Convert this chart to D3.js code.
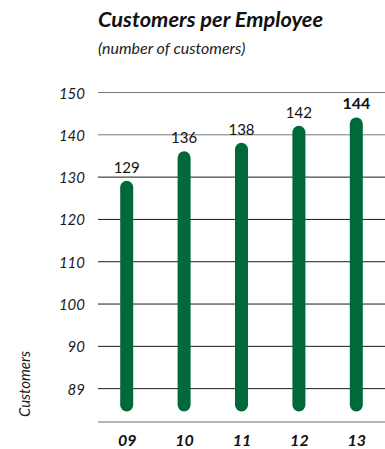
<!DOCTYPE html>
<html>
<head>
<meta charset="utf-8">
<script src="https://cdn.jsdelivr.net/npm/d3@7/dist/d3.min.js"></script>
<style>
  html, body { margin: 0; padding: 0; background: #fff; }
  svg { display: block; font-family: Lato, "Open Sans", sans-serif; }
  svg text { font-family: Lato, "Open Sans", sans-serif; }
</style>
</head>
<body>
<svg id="chart" width="385" height="449"></svg>
<script>
// Fiscal years and customers per employee
const years = ["09", "10", "11", "12", "13"];
const customers = [129, 136, 138, 142, 144];

// Gridline positions and the labels printed beside them
const tickValues = [150, 140, 130, 120, 110, 100, 90, 80];
const tickLabels = ["150", "140", "130", "120", "110", "100", "90", "89"];

// Value where the bars start (below the lowest gridline)
const barBase = 74.5;

const svg = d3.select("#chart");
const green = "#00693c";
const font = "Lato, 'Open Sans', sans-serif";

const plotLeft = 98, plotRight = 385, plotTop = 92, axisY = 422;

const x = d3.scalePoint().domain(years).range([plotLeft, plotRight]).padding(0.5);
const y = d3.scaleLinear().domain([72, 150]).range([axisY, plotTop]);

// Title block
svg.append("text")
  .attr("x", plotLeft).attr("y", 27)
  .attr("font-size", 21.8).attr("font-weight", "bold").attr("font-style", "italic")
  .attr("fill", "#111")
  .text("Customers per Employee");
svg.append("text")
  .attr("x", plotLeft).attr("y", 54)
  .attr("font-size", 16).attr("font-style", "italic")
  .attr("fill", "#222")
  .text("(number of customers)");

// Horizontal gridlines with tick labels on the left
const yAxis = d3.axisLeft(y)
  .tickValues(tickValues)
  .tickSize(-(plotRight - plotLeft))
  .tickPadding(13)
  .tickFormat((d, i) => tickLabels[i]);

const gy = svg.append("g")
  .attr("transform", `translate(${plotLeft},0)`)
  .call(yAxis)
  .attr("font-family", font);
gy.select(".domain").remove();
gy.selectAll(".tick line")
  .attr("stroke", d => d >= 140 ? "#7a7a7a" : "#1a1a1a")
  .attr("stroke-width", 1);
gy.selectAll(".tick text")
  .attr("font-size", 15).attr("font-style", "italic")
  .attr("fill", "#1a1a1a")
  .attr("dy", "0.4em");

// Baseline
svg.append("line")
  .attr("x1", plotLeft).attr("x2", plotRight)
  .attr("y1", axisY).attr("y2", axisY)
  .attr("stroke", "#6b6b6b").attr("stroke-width", 1.2);

// Category labels below the baseline
const xAxis = d3.axisBottom(x).tickSize(0).tickPadding(13);
const gx = svg.append("g")
  .attr("transform", `translate(0,${axisY})`)
  .call(xAxis)
  .attr("font-family", font);
gx.select(".domain").remove();
gx.selectAll(".tick text")
  .attr("font-size", 16).attr("font-weight", "bold").attr("font-style", "italic")
  .attr("fill", "#111");

// Rounded bars
const barW = 13;
const data = years.map((yr, i) => ({ yr, v: customers[i], last: i === years.length - 1 }));

svg.append("g").selectAll("rect")
  .data(data)
  .join("rect")
  .attr("x", d => x(d.yr) - barW / 2)
  .attr("width", barW)
  .attr("y", d => y(d.v))
  .attr("height", d => y(barBase) - y(d.v))
  .attr("rx", barW / 2).attr("ry", barW / 2)
  .attr("fill", green);

// Value labels above bars; the latest year is emphasised
svg.append("g").selectAll("text")
  .data(data)
  .join("text")
  .attr("x", d => x(d.yr))
  .attr("y", d => y(d.v) - 8)
  .attr("text-anchor", "middle")
  .attr("font-size", d => d.last ? 16 : 15)
  .attr("font-weight", d => d.last ? "bold" : "normal")
  .attr("fill", "#111")
  .text(d => d.v);

// Axis title
svg.append("text")
  .attr("transform", "translate(30,384) rotate(-90)")
  .attr("text-anchor", "middle")
  .attr("font-size", 15).attr("font-style", "italic")
  .attr("fill", "#222")
  .text("Customers");
</script>
</body>
</html>
